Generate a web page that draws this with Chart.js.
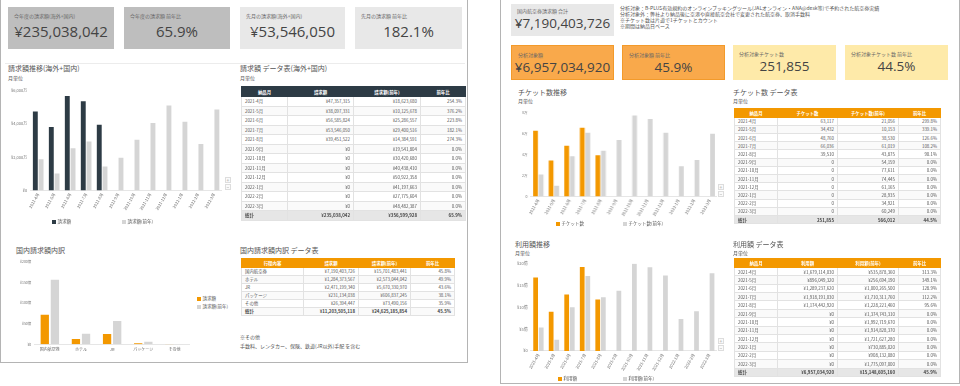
<!DOCTYPE html>
<html lang="ja">
<head>
<meta charset="utf-8">
<script src="https://cdn.jsdelivr.net/npm/chart.js@4"></script>
<style>
  body { margin:0; width:960px; height:386px; background:#fff; position:relative; overflow:hidden;
         font-family:'Noto Sans CJK JP','Noto Sans',sans-serif; color:#555; }
  .panel { position:absolute; border:1px solid #b4b4b4; box-sizing:border-box; background:#fff; }
  .kpi { position:absolute; box-sizing:border-box; }
  .kpi .lb { position:absolute; left:6px; top:5px; font-size:5px; color:#666; white-space:nowrap; }
  .kpi .val { position:absolute; left:0; right:0; text-align:center; font-family:'Open Sans',sans-serif; color:#444; white-space:nowrap; }
  .ttl { position:absolute; font-size:7px; color:#555; white-space:nowrap; }
  .sub { position:absolute; font-size:5px; color:#555; white-space:nowrap; }
  .note { position:absolute; font-size:5px; color:#555; white-space:nowrap; line-height:6px; }
  .box { position:absolute; }
  .zoombtn { position:absolute; width:6px; height:6px; border:1px solid #ddd; box-sizing:border-box; font-size:5px; line-height:4px; text-align:center; color:#999; background:#fafafa; }
  .legend { position:absolute; font-size:4.5px; color:#555; white-space:nowrap; }
  .legend i { display:inline-block; width:3.5px; height:3.5px; margin-right:2px; vertical-align:middle; }
  table { position:absolute; border-collapse:collapse; table-layout:fixed; font-size:4.4px; color:#555; }
  th, td { border:1px solid #e2e2e2; padding:0 3px; white-space:nowrap; overflow:hidden; }
  th { color:#fff; font-weight:bold; text-align:center; }
  td.r { text-align:right; }
  tr.total td { background:#e6e6e6; font-weight:bold; color:#444; }
  tbody tr:nth-child(even) td { background:#fafafa; }
</style>
</head>
<body>

<!-- left dashboard -->
<div class="panel" style="left:0;top:-1px;width:468px;height:364px;"></div>
<div class="kpi" style="left:8px;top:7px;width:106px;height:42px;background:#bebebe;">
  <div class="lb">今年度の請求額(海外+国内)</div><div class="val" id="kpi1" style="top:14px;font-size:15px;"></div></div>
<div class="kpi" style="left:124px;top:7px;width:106px;height:42px;background:#bebebe;">
  <div class="lb">今年度の請求額 前年比</div><div class="val" id="kpi2" style="top:14px;font-size:15px;"></div></div>
<div class="kpi" style="left:240px;top:7px;width:105px;height:42px;background:#e8e8e8;">
  <div class="lb">先月の請求額(海外+国内)</div><div class="val" id="kpi3" style="top:14px;font-size:15px;"></div></div>
<div class="kpi" style="left:355px;top:7px;width:107px;height:42px;background:#e8e8e8;">
  <div class="lb">先月の請求額 前年比</div><div class="val" id="kpi4" style="top:14px;font-size:15px;"></div></div>
<div class="box" style="left:5px;top:63px;width:460px;height:1px;background:#ececec;"></div>

<div class="ttl" style="left:8px;top:63px;">請求額推移(海外+国内)</div>
<div class="sub" style="left:8px;top:74px;">月単位</div>
<div class="box" style="left:8px;top:84.5px;width:214px;height:128px;"><canvas id="billingChart"></canvas></div>
<div class="zoombtn" style="left:225px;top:177px;">+</div>
<div class="zoombtn" style="left:225px;top:184px;">−</div>
<div class="legend" style="left:52px;top:218px;"><i style="background:#2d3b45"></i>請求額</div>
<div class="legend" style="left:122px;top:218px;"><i style="background:#d5d5d5"></i>請求額(前年)</div>

<div class="ttl" style="left:240px;top:63px;">請求額 データ表(海外+国内)</div>
<div class="sub" style="left:240px;top:74px;">月単位</div>
<table id="billingTable" style="left:241px;top:86px;width:224px;"></table>

<div class="ttl" style="left:16px;top:245px;">国内請求額内訳</div>
<div class="box" style="left:16.5px;top:257px;width:173px;height:98px;"><canvas id="domChart"></canvas></div>
<div class="legend" style="left:197px;top:295px;"><i style="background:#f39800"></i>請求額</div>
<div class="legend" style="left:197px;top:303px;"><i style="background:#d5d5d5"></i>請求額(前年)</div>

<div class="ttl" style="left:240px;top:245px;">国内請求額内訳 データ表</div>
<table id="domTable" style="left:241px;top:258px;width:213px;"></table>
<div class="sub" style="left:240px;top:333px;">※その他</div>
<div class="sub" style="left:240px;top:342px;">手数料、レンタカー、保険、鉄道(JR以外)手配 を含む</div>

<!-- right dashboard -->
<div class="panel" style="left:500px;top:-1px;width:460px;height:385px;"></div>
<div class="kpi" style="left:511px;top:4px;width:103px;height:32px;background:#e8e8e8;">
  <div class="lb" style="top:3px;">国内航空券請求額 合計</div><div class="val" id="kpi5" style="top:10px;font-size:13.5px;"></div></div>
<div class="note" style="left:620px;top:5px;">
  分析対象：B-PLUS有効規約のオンラインブッキングツール(JALオンライン・ANA@desk等)で予約された航空券実績<br>
  分析対象外：弊社より納品後に空港や直接航空会社で変更された航空券、取消手数料<br>
  ※チケット数は片道で1チケットとカウント<br>
  ※期間は納品日ベース</div>
<div class="kpi" style="left:511px;top:45px;width:103px;height:35px;background:#f9a94b;border:1px solid #f39a2a;">
  <div class="lb">分析対象額</div><div class="val" id="kpi6" style="top:12px;font-size:13.5px;"></div></div>
<div class="kpi" style="left:622px;top:45px;width:103px;height:35px;background:#f9a94b;border:1px solid #f39a2a;">
  <div class="lb">分析対象額 前年比</div><div class="val" id="kpi7" style="top:12px;font-size:13.5px;"></div></div>
<div class="kpi" style="left:733px;top:45px;width:103px;height:35px;background:#feeaa9;">
  <div class="lb">分析対象チケット数</div><div class="val" id="kpi8" style="top:12px;font-size:13.5px;"></div></div>
<div class="kpi" style="left:845px;top:45px;width:103px;height:35px;background:#feeaa9;">
  <div class="lb">分析対象チケット数 前年比</div><div class="val" id="kpi9" style="top:12px;font-size:13.5px;"></div></div>

<div class="ttl" style="left:518px;top:87px;">チケット数推移</div>
<div class="sub" style="left:518px;top:97px;">月単位</div>
<div class="box" style="left:519px;top:108px;width:197.5px;height:111px;"><canvas id="ticketChart"></canvas></div>
<div class="zoombtn" style="left:718px;top:184px;">+</div>
<div class="zoombtn" style="left:718px;top:191px;">−</div>
<div class="legend" style="left:556px;top:220px;"><i style="background:#f39800"></i>チケット数</div>
<div class="legend" style="left:623px;top:220px;"><i style="background:#d5d5d5"></i>チケット数(前年)</div>

<div class="ttl" style="left:733px;top:87px;">チケット数 データ表</div>
<div class="sub" style="left:733px;top:97px;">月単位</div>
<table id="ticketTable" style="left:734px;top:108px;width:206px;"></table>

<div class="ttl" style="left:515px;top:239px;">利用額推移</div>
<div class="sub" style="left:515px;top:249px;">月単位</div>
<div class="box" style="left:513.5px;top:257.5px;width:203px;height:115.5px;"><canvas id="usageChart"></canvas></div>
<div class="zoombtn" style="left:718px;top:338px;">+</div>
<div class="zoombtn" style="left:718px;top:345px;">−</div>
<div class="legend" style="left:558px;top:375px;"><i style="background:#f39800"></i>利用額</div>
<div class="legend" style="left:623px;top:375px;"><i style="background:#d5d5d5"></i>利用額(前年)</div>

<div class="ttl" style="left:733px;top:239px;">利用額 データ表</div>
<div class="sub" style="left:733px;top:249px;">月単位</div>
<table id="usageTable" style="left:734px;top:258px;width:206px;"></table>

<script>
const DARK = '#2d3b45';
const ORANGE = '#f39800';
const GRAY = '#d5d5d5';

// ─── Data ──────────────────────────────────────────────────────

const months = ['2021-4月', '2021-5月', '2021-6月', '2021-7月', '2021-8月', '2021-9月',
  '2021-10月', '2021-11月', '2021-12月', '2022-1月', '2022-2月', '2022-3月'];

const billing = [47357315, 38097331, 56585824, 53546050, 39451522, 0, 0, 0, 0, 0, 0, 0];
const billingPrev = [18623680, 10125678, 25286557, 29400516, 14384591, 19541804,
  30420680, 40438410, 50922358, 41197663, 27775604, 48482387];
const billingTotal = 235038042;
const billingPrevTotal = 356599928;
const billingTicks = ['¥0', '¥2,000万', '¥4,000万', '¥6,000万'];

const domCats = ['国内航空券', 'ホテル', 'JR', 'パッケージ', 'その他'];
const domBilling = [7190403726, 1284373567, 2471199340, 231134038, 26394447];
const domBillingPrev = [15701483441, 2573044042, 5670330970, 606837245, 73490156];
const domTotal = 11203505118;
const domPrevTotal = 24625185854;
const domTicks = ['¥0', '¥50億', '¥100億', '¥150億', '¥200億'];

const tickets = [63117, 34432, 48760, 66036, 39510, 0, 0, 0, 0, 0, 0, 0];
const ticketsPrev = [21056, 10153, 38530, 61019, 43875, 54159, 77611, 74445, 61165, 28935, 34921, 60249];
const ticketsTotal = 251855;
const ticketsPrevTotal = 566012;
const ticketTicks = ['0', '2万', '4万', '6万', '8万'];

const usage = [1679114030, 896049320, 1289237620, 1918191030, 1174442920, 0, 0, 0, 0, 0, 0, 0];
const usagePrev = [535878360, 256694190, 1000265500, 1710311760, 1228221460, 1374743310,
  1992719670, 1914828370, 1721627280, 730885020, 908132080, 1775097000];
const usageTotal = 6957034920;
const usagePrevTotal = 15148605160;
const usageTicks = ['¥0', '¥5億', '¥10億', '¥15億', '¥20億'];

// ─── Helpers ───────────────────────────────────────────────────

const yen = v => '¥' + v.toLocaleString('en-US');
const num = v => v.toLocaleString('en-US');
const pct = (a, b) => (b ? (a / b * 100) : 0).toFixed(1) + '%';

Chart.defaults.font.family = "'Noto Sans CJK JP','Noto Sans',sans-serif";
Chart.defaults.color = '#777';
Chart.defaults.animation = false;

function barChart(id, labels, cur, prev, curColor, max, tickLabels, opts = {}) {
  const step = max / (tickLabels.length - 1);
  const cat = opts.cat || 0.72;
  const bar = opts.bar || 0.85;
  return new Chart(document.getElementById(id), {
    type: 'bar',
    data: {
      labels,
      datasets: [
        { data: cur, backgroundColor: curColor, categoryPercentage: cat, barPercentage: bar },
        { data: prev, backgroundColor: GRAY, categoryPercentage: cat, barPercentage: bar },
      ],
    },
    options: {
      responsive: true,
      maintainAspectRatio: false,
      layout: { padding: 0 },
      plugins: { legend: { display: false }, tooltip: { enabled: false } },
      scales: {
        x: {
          grid: { display: false, drawTicks: false },
          border: { color: '#e6e6e6' },
          ticks: {
            font: { size: 4 },
            color: '#666',
            autoSkip: false,
            minRotation: opts.rot ?? 60,
            maxRotation: opts.rot ?? 60,
            padding: opts.xPad ?? 2,
          },
        },
        y: {
          min: 0,
          max,
          grid: { display: false, drawTicks: false },
          border: { display: false },
          ticks: {
            stepSize: step,
            font: { size: opts.yFont || 4 },
            color: '#777',
            padding: 3,
            callback: (v, i) => tickLabels[i],
          },
        },
      },
    },
  });
}

function buildTable(id, headColor, headers, widths, rowHeight, rows, totalRow) {
  const t = document.getElementById(id);
  const cols = widths.map(w => `<col style="width:${w}px">`).join('');
  const head = `<thead><tr style="height:${rowHeight + 0.5}px">` +
    headers.map(h => `<th style="background:${headColor};border-color:${headColor}">${h}</th>`).join('') + '</tr></thead>';
  const body = rows.map(r => `<tr style="height:${rowHeight}px"><td>${r[0]}</td>` +
    r.slice(1).map(c => `<td class="r">${c}</td>`).join('') + '</tr>').join('');
  const tot = `<tr class="total" style="height:${rowHeight}px"><td>${totalRow[0]}</td>` +
    totalRow.slice(1).map(c => `<td class="r">${c}</td>`).join('') + '</tr>';
  t.innerHTML = `<colgroup>${cols}</colgroup>${head}<tbody>${body}${tot}</tbody>`;
}

// ─── Render ────────────────────────────────────────────────────

function init() {
  document.getElementById('kpi1').textContent = yen(billingTotal);
  document.getElementById('kpi2').textContent = pct(billingTotal, billingPrevTotal);
  document.getElementById('kpi3').textContent = yen(billing[3]);
  document.getElementById('kpi4').textContent = pct(billing[3], billingPrev[3]);
  document.getElementById('kpi5').textContent = yen(domBilling[0]);
  document.getElementById('kpi6').textContent = yen(usageTotal);
  document.getElementById('kpi7').textContent = pct(usageTotal, usagePrevTotal);
  document.getElementById('kpi8').textContent = num(ticketsTotal);
  document.getElementById('kpi9').textContent = pct(ticketsTotal, ticketsPrevTotal);

  barChart('billingChart', months, billing, billingPrev, DARK, 60000000, billingTicks);
  barChart('domChart', domCats, domBilling, domBillingPrev, ORANGE, 20000000000, domTicks,
    { cat: 0.65, bar: 0.82, rot: 0, yFont: 3.5, xPad: 3 });
  barChart('ticketChart', months, tickets, ticketsPrev, ORANGE, 80000, ticketTicks, { yFont: 3.5 });
  barChart('usageChart', months, usage, usagePrev, ORANGE, 2000000000, usageTicks);

  buildTable('billingTable', DARK, ['納品月', '請求額', '請求額(前年)', '前年比'], [46, 66, 67, 45], 9.5,
    months.map((m, i) => [m, yen(billing[i]), yen(billingPrev[i]), pct(billing[i], billingPrev[i])]),
    ['総計', yen(billingTotal), yen(billingPrevTotal), pct(billingTotal, billingPrevTotal)]);

  buildTable('domTable', ORANGE, ['行程内容', '請求額', '請求額(前年)', '前年比'], [62, 55, 52, 44], 8,
    domCats.map((c, i) => [c, yen(domBilling[i]), yen(domBillingPrev[i]), pct(domBilling[i], domBillingPrev[i])]),
    ['総計', yen(domTotal), yen(domPrevTotal), pct(domTotal, domPrevTotal)]);

  buildTable('ticketTable', ORANGE, ['納品月', 'チケット数', 'チケット数(前年)', '前年比'], [43, 60, 61, 42], 8.2,
    months.map((m, i) => [m, num(tickets[i]), num(ticketsPrev[i]), pct(tickets[i], ticketsPrev[i])]),
    ['総計', num(ticketsTotal), num(ticketsPrevTotal), pct(ticketsTotal, ticketsPrevTotal)]);

  buildTable('usageTable', ORANGE, ['納品月', '利用額', '利用額(前年)', '前年比'], [43, 60, 61, 42], 8.4,
    months.map((m, i) => [m, yen(usage[i]), yen(usagePrev[i]), pct(usage[i], usagePrev[i])]),
    ['総計', yen(usageTotal), yen(usagePrevTotal), pct(usageTotal, usagePrevTotal)]);
}

document.addEventListener('DOMContentLoaded', init);
</script>
</body>
</html>
